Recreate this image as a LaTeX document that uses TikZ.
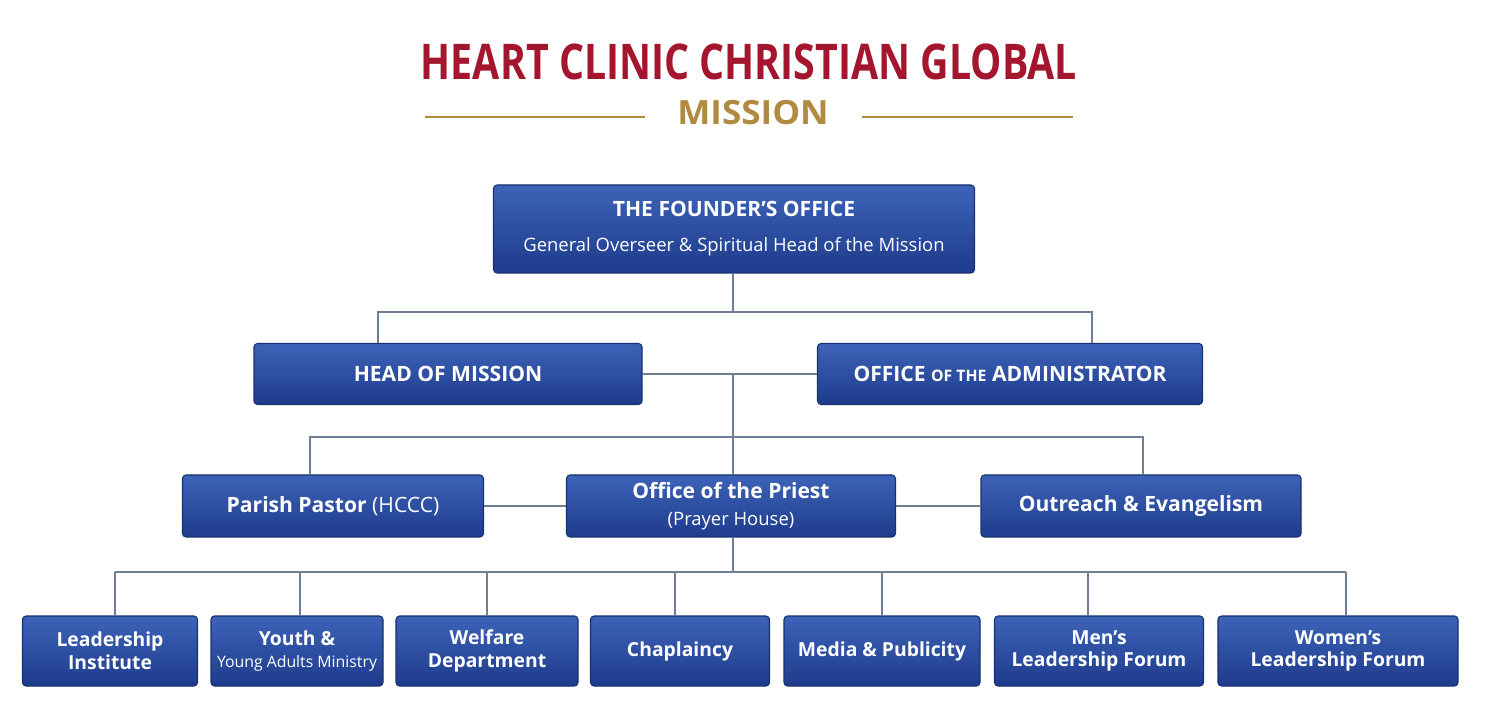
\documentclass[tikz,border=0pt]{standalone}
\usepackage{fontspec}
\setmainfont{Open Sans}
\usetikzlibrary{positioning}
\definecolor{boxtop}{HTML}{3D63B8}
\definecolor{boxbot}{HTML}{1E3B8C}
\definecolor{boxline}{HTML}{18306F}
\definecolor{titlered}{HTML}{A3162E}
\definecolor{gold}{HTML}{B08A3E}
\definecolor{wire}{HTML}{6F7E95}
\tikzstyle{unit}=[draw=boxline,line width=0.6,rounded corners=2,top color=boxtop,bottom color=boxbot,
                  text=white,align=center,font=\bfseries\fontsize{12}{14}\selectfont,inner sep=0]
\tikzstyle{wire}=[draw=wire,line width=0.8]

\begin{document}
\begin{tikzpicture}[x=0.02cm,y=-0.02cm]
  \useasboundingbox[fill=white] (0,0) rectangle (1501,712);

  % TITLE
  \node (title) at (749,62) {\fontsize{28}{30}\selectfont\bfseries\color{titlered}\scalebox{0.8}[1]{HEART CLINIC CHRISTIAN GLOBAL}};
  \node (mission) at (753,113) {\fontsize{19}{21}\selectfont\color{gold}\scalebox{1.05}[1]{\textbf{MISSION}}};
  \coordinate (l1) at (425,117); \coordinate (l2) at (645,117);
  \coordinate (r1) at (862,117); \coordinate (r2) at (1073,117);
  \draw[gold,line width=0.8] (l1) -- (l2) (r1) -- (r2);

  % TOP LEVELS
  \node[unit,minimum width=481*0.02cm,minimum height=88*0.02cm] (founder) at (734,229)
    {THE FOUNDER'S OFFICE\\[6pt]{\mdseries\fontsize{10.5}{13}\selectfont General Overseer \& Spiritual Head of the Mission}};
  \node[unit,minimum width=388*0.02cm,minimum height=61*0.02cm] (head) at (448,374) {HEAD OF MISSION};
  \node[unit,minimum width=385*0.02cm,minimum height=61*0.02cm] (admin) at (1010,374)
    {OFFICE {\fontsize{9}{11}\selectfont OF THE} ADMINISTRATOR};
  \node[unit,minimum width=301*0.02cm,minimum height=62*0.02cm] (parish) at (333,506)
    {Parish Pastor {\mdseries(HCCC)}};
  \node[unit,minimum width=329*0.02cm,minimum height=62*0.02cm] (priest) at (731,506)
    {Office of the Priest\\[1pt]{\mdseries\fontsize{10.5}{12}\selectfont(Prayer House)}};
  \node[unit,minimum width=320*0.02cm,minimum height=62*0.02cm] (outreach) at (1141,506) {Outreach \& Evangelism};

  % BOTTOM ROW
  \foreach \n/\x/\w/\t in {lead/110/175/{Leadership\\Institute},
                          youth/297/172/{Youth \&\\{\mdseries\fontsize{9}{11}\selectfont Young Adults Ministry}},
                          welfare/487/182/{Welfare\\Department},
                          chap/680/179/{Chaplaincy},
                          media/882/196/{Media \& Publicity},
                          men/1099/209/{Men's\\Leadership Forum},
                          women/1338/240/{Women's\\Leadership Forum}}
    \node[unit,font=\bfseries\fontsize{11}{13}\selectfont,minimum width=\w*0.02cm,minimum height=70*0.02cm] (\n) at (\x,651) {\t};

  % CONNECTORS
  \coordinate (j1) at (733,312);
  \draw[wire] (founder.south -| j1) -- (j1);
  \draw[wire] (head.north -| 378,0) |- (j1) -| (admin.north -| 1092,0);
  \draw[wire] (head) -- (admin);
  \coordinate (j2) at (733,374); \coordinate (j3) at (733,437);
  \draw[wire] (j2) -- (j3) -- (priest.north -| j3);
  \draw[wire] (parish.north -| 310,0) |- (j3) -| (outreach.north -| 1143,0);
  \draw[wire] (parish) -- (priest) -- (outreach);
  \coordinate (j4) at (733,572);
  \draw[wire] (priest.south -| j4) -- (j4);
  \coordinate (a) at (115,572); \coordinate (b) at (1346,572);
  \draw[wire] (a) -- (b);
  \foreach \n/\x in {lead/115,youth/300,welfare/487,chap/675,media/882,men/1088,women/1346}
    \draw[wire] (\x,572) -- (\n.north -| \x,0);
\end{tikzpicture}
\end{document}
